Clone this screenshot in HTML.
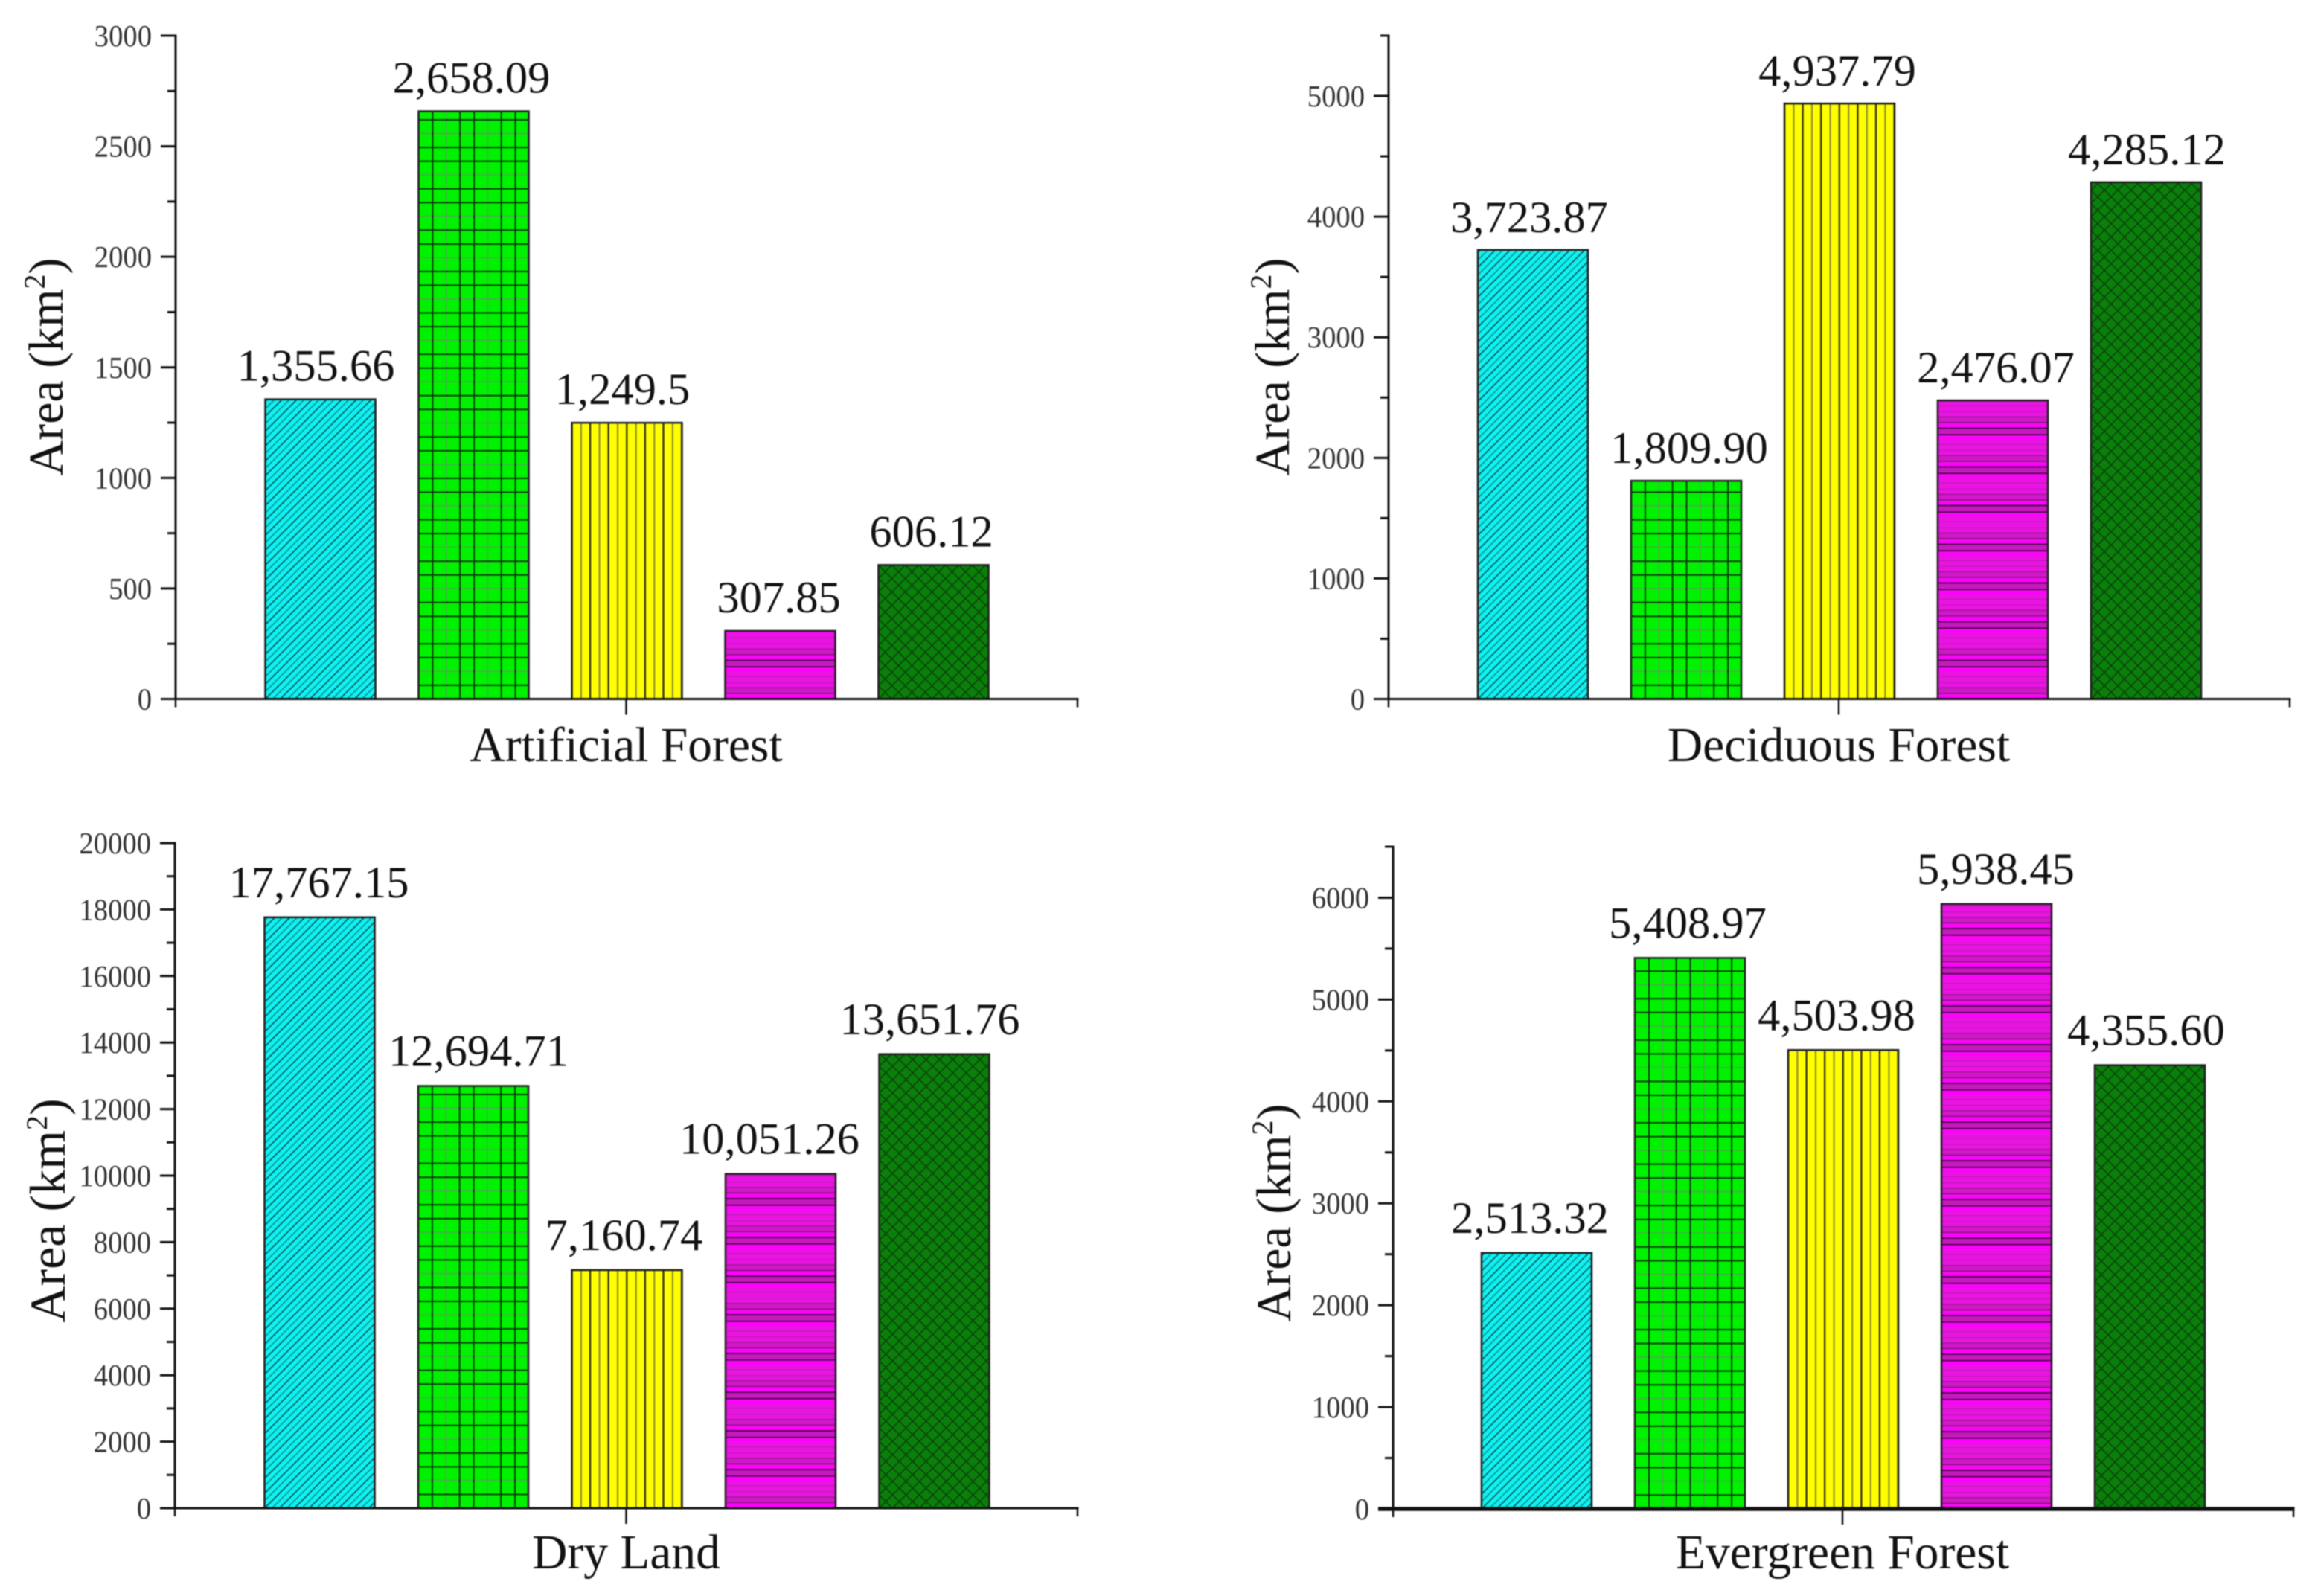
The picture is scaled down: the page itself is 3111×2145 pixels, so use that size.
<!DOCTYPE html>
<html lang="en">
<head>
<meta charset="utf-8">
<title>Area by land cover type</title>
<style>
html,body{margin:0;padding:0;background:#fff;}
svg{display:block;filter:blur(0.7px);}
text{font-family:"Liberation Serif",serif;fill:#111;}
</style>
</head>
<body>
<svg id="chart" xmlns="http://www.w3.org/2000/svg" width="3111" height="2145" viewBox="0 0 3111 2145">
  <defs>
    <pattern id="hatch-cyan" patternUnits="userSpaceOnUse" width="20" height="20">
      <rect width="20" height="20" fill="#0ef2f2"/>
      <path d="M-2 22L22 -2M-2 2L2 -2M18 22L22 18" stroke="#0b3f46" stroke-width="1.5" fill="none"/>
      <path d="M-2 12L12 -2M8 22L22 8" stroke="#0a8f96" stroke-width="1.6" fill="none"/>
    </pattern>
    <pattern id="hatch-green" patternUnits="userSpaceOnUse" width="55.6" height="55.6">
      <rect width="55.6" height="55.6" fill="#00f200"/>
      <rect x="36.4" y="0" width="1.8" height="55.6" fill="#45b045"/>
      <rect x="0" y="17.4" width="55.6" height="1.8" fill="#45b045"/>
      <rect x="17.9" y="0" width="2" height="55.6" fill="#063d06"/>
      <rect x="-1" y="0" width="2" height="55.6" fill="#063d06"/>
      <rect x="54.6" y="0" width="2" height="55.6" fill="#063d06"/>
      <rect x="0" y="-1" width="55.6" height="2" fill="#063d06"/>
      <rect x="0" y="54.6" width="55.6" height="2" fill="#063d06"/>
      <rect x="0" y="36" width="55.6" height="2" fill="#063d06"/>
    </pattern>
    <pattern id="hatch-yellow" patternUnits="userSpaceOnUse" width="24.6" height="24">
      <rect width="24.6" height="24" fill="#ffff00"/>
      <rect x="-1.1" y="0" width="2.2" height="24" fill="#2a2a10"/>
      <rect x="23.5" y="0" width="2.2" height="24" fill="#2a2a10"/>
      <rect x="11.4" y="0" width="2" height="24" fill="#88882a"/>
    </pattern>
    <pattern id="hatch-magenta" patternUnits="userSpaceOnUse" width="24" height="52">
      <rect width="24" height="52" fill="#ea14e2"/>
      <rect y="11" width="24" height="4" fill="#ff00ff"/>
      <rect y="47" width="24" height="3.6" fill="#ff00ff"/>
      <rect y="0" width="24" height="7" fill="#c41abc"/>
      <rect y="37" width="24" height="8" fill="#d018c8"/>
      <rect y="-0.9" width="24" height="1.8" fill="#4e0052"/>
      <rect y="51.1" width="24" height="1.8" fill="#4e0052"/>
      <rect y="7.8" width="24" height="1.8" fill="#4e0052"/>
      <rect y="36" width="24" height="1.6" fill="#a01a98"/>
      <rect y="43.6" width="24" height="1.6" fill="#8e0e88"/>
      <rect y="21" width="24" height="1.6" fill="#c41abc"/>
      <rect y="29" width="24" height="1.6" fill="#c41abc"/>
    </pattern>
    <pattern id="hatch-dark-green" patternUnits="userSpaceOnUse" width="18" height="18">
      <rect width="18" height="18" fill="#0a800a"/>
      <path d="M-2 -2L20 20M20 -2L-2 20" stroke="#0c3d0c" stroke-width="1.5" fill="none"/>
    </pattern>
  </defs>
</svg>
<script>
// ---------- chart data ----------
const barFills = ['hatch-cyan', 'hatch-green', 'hatch-yellow', 'hatch-magenta', 'hatch-dark-green'];
const seriesKeys = ['series-1', 'series-2', 'series-3', 'series-4', 'series-5'];

const artificialCategory = 'Artificial Forest';
const artificialValues = [1355.66, 2658.09, 1249.5, 307.85, 606.12];
const artificialPrinted = ['1,355.66', '2,658.09', '1,249.5', '307.85', '606.12'];
const artificialMajorTicks = [0, 500, 1000, 1500, 2000, 2500, 3000];
const artificialMinorTicks = [250, 750, 1250, 1750, 2250, 2750];

const deciduousCategory = 'Deciduous Forest';
const deciduousValues = [3723.87, 1809.90, 4937.79, 2476.07, 4285.12];
const deciduousPrinted = ['3,723.87', '1,809.90', '4,937.79', '2,476.07', '4,285.12'];
const deciduousMajorTicks = [0, 1000, 2000, 3000, 4000, 5000];
const deciduousMinorTicks = [500, 1500, 2500, 3500, 4500, 5500];

const dryLandCategory = 'Dry Land';
const dryLandValues = [17767.15, 12694.71, 7160.74, 10051.26, 13651.76];
const dryLandPrinted = ['17,767.15', '12,694.71', '7,160.74', '10,051.26', '13,651.76'];
const dryLandMajorTicks = [0, 2000, 4000, 6000, 8000, 10000, 12000, 14000, 16000, 18000, 20000];
const dryLandMinorTicks = [1000, 3000, 5000, 7000, 9000, 11000, 13000, 15000, 17000, 19000];

const evergreenCategory = 'Evergreen Forest';
const evergreenValues = [2513.32, 5408.97, 4503.98, 5938.45, 4355.60];
const evergreenPrinted = ['2,513.32', '5,408.97', '4,503.98', '5,938.45', '4,355.60'];
const evergreenMajorTicks = [0, 1000, 2000, 3000, 4000, 5000, 6000];
const evergreenMinorTicks = [500, 1500, 2500, 3500, 4500, 5500, 6500];

// ---------- panel layout ----------
const panels = [
  {key:'artificial-forest', category:artificialCategory, values:artificialValues, printed:artificialPrinted,
   major:artificialMajorTicks, minor:artificialMinorTicks, yMax:3000,
   layout:{axisX:236, axisEnd:1448, top:48, base:939.5, center:842.5, step:206, gap:25, titleX:84, titleY:493, titleSize:66, xLabelY:1023, xAxisWidth:3, xAxisStart:236, nudge:[-6,-3,-6,-2,-3]}},
  {key:'deciduous-forest', category:deciduousCategory, values:deciduousValues, printed:deciduousPrinted,
   major:deciduousMajorTicks, minor:deciduousMinorTicks, yMax:5500,
   layout:{axisX:1866, axisEnd:3077, top:48, base:939.5, center:2472, step:206, gap:24, titleX:1732, titleY:493, titleSize:66, xLabelY:1023, xAxisWidth:3, xAxisStart:1866, nudge:[-5,4,-3,4,1]}},
  {key:'dry-land', category:dryLandCategory, values:dryLandValues, printed:dryLandPrinted,
   major:dryLandMajorTicks, minor:dryLandMinorTicks, yMax:20000,
   layout:{axisX:235, axisEnd:1448, top:1133, base:2027, center:842.5, step:206.5, gap:27, titleX:87, titleY:1627, titleSize:68, xLabelY:2108, xAxisWidth:3, xAxisStart:235, nudge:[-1,7,-4,-15,-6]}},
  {key:'evergreen-forest', category:evergreenCategory, values:evergreenValues, printed:evergreenPrinted,
   major:evergreenMajorTicks, minor:evergreenMinorTicks, yMax:6500,
   layout:{axisX:1872, axisEnd:3082, top:1138, base:2028, center:2477, step:206, gap:27, titleX:1734, titleY:1630, titleSize:66, xLabelY:2108, xAxisWidth:5.5, xAxisStart:1852, nudge:[-9,-3,-9,-1,-5]}}
];

const BAR_W = 148;
const MAJOR_LEN = 20;
const MINOR_LEN = 11;
const svg = document.getElementById('chart');
const NS = 'http://www.w3.org/2000/svg';

function make(tag, attrs, parent) {
  const el = document.createElementNS(NS, tag);
  for (const k in attrs) el.setAttribute(k, attrs[k]);
  parent.appendChild(el);
  return el;
}

panels.forEach(function (p) {
  const L = p.layout;
  const yScale = function (v) { return L.base - (v / p.yMax) * (L.base - L.top); };
  const xScale = function (i) { return L.center + (i - 2) * L.step; };

  const g = make('g', {}, svg);
  
  

  // bars
  p.values.forEach(function (v, i) {
    const x = xScale(i) - BAR_W / 2;
    const h = L.base - yScale(v);
    const bar = make('rect', {
      x: 0, y: -h, width: BAR_W, height: h,
      transform: 'translate(' + x + ' ' + L.base + ')',
      fill: 'url(#' + barFills[i] + ')',
      stroke: '#222', 'stroke-width': 2.6
    }, g);
    
    

    const label = make('text', {
      x: xScale(i) + L.nudge[i],
      y: yScale(v) - L.gap,
      'text-anchor': 'middle',
      'font-size': 60.5
    }, g);
    label.textContent = p.printed[i];
    
    
  });

  // y axis
  const yAxis = make('line', {x1: L.axisX, x2: L.axisX, y1: L.top - 1.5, y2: L.base + 1.5, stroke: '#111', 'stroke-width': 3}, g);
  
  

  p.major.forEach(function (t) {
    const y = yScale(t);
    const tick = make('line', {x1: L.axisX - MAJOR_LEN, x2: L.axisX, y1: y, y2: y, stroke: '#111', 'stroke-width': 3}, g);
    
    

    const s = String(t);
    const tl = make('text', {
      x: L.axisX - MAJOR_LEN - 12,
      y: y + 14,
      'text-anchor': 'end',
      'font-size': 41,
      textLength: s.length * 19.3,
      lengthAdjust: 'spacingAndGlyphs',
      style: 'fill:#333'
    }, g);
    tl.textContent = s;
    
    
  });

  p.minor.forEach(function (t) {
    const y = yScale(t);
    const tick = make('line', {x1: L.axisX - MINOR_LEN, x2: L.axisX, y1: y, y2: y, stroke: '#111', 'stroke-width': 3}, g);
    
    
  });

  // x axis
  const xAxis = make('line', {x1: L.xAxisStart, x2: L.axisEnd + 1.5, y1: L.base, y2: L.base, stroke: '#111', 'stroke-width': L.xAxisWidth}, g);
  
  

  const midTick = make('line', {x1: L.center - 1, x2: L.center - 1, y1: L.base, y2: L.base + 21, stroke: '#111', 'stroke-width': 2.5}, g);
  
  

  const endTick = make('line', {x1: L.axisEnd, x2: L.axisEnd, y1: L.base, y2: L.base + 11, stroke: '#111', 'stroke-width': 2.5}, g);
  
  

  const startTick = make('line', {x1: L.axisX, x2: L.axisX, y1: L.base, y2: L.base + 11, stroke: '#111', 'stroke-width': 2.5}, g);
  
  

  // x category label
  const xLabel = make('text', {x: L.center - 1, y: L.xLabelY, 'text-anchor': 'middle', 'font-size': 65.5}, g);
  xLabel.textContent = p.category;
  
  

  // y axis title
  const title = make('text', {
    x: L.titleX, y: L.titleY, 'text-anchor': 'middle', 'font-size': L.titleSize,
    transform: 'rotate(-90 ' + L.titleX + ' ' + L.titleY + ')'
  }, g);
  
  
  const t1 = make('tspan', {}, title);
  t1.textContent = 'Area (km';
  const t2 = make('tspan', {dy: -24, 'font-size': 40}, title);
  t2.textContent = '2';
  const t3 = make('tspan', {dy: 24}, title);
  t3.textContent = ')';
});
</script>
</body>
</html>
